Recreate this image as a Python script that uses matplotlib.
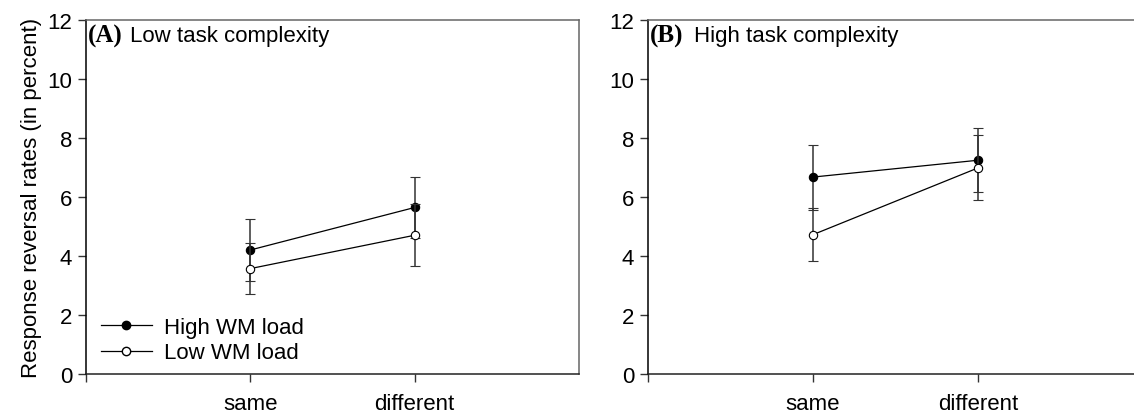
import matplotlib
matplotlib.use("Agg")
import matplotlib.pyplot as plt
from matplotlib.lines import Line2D

conditions = ["same", "different"]
x_pos = [1, 2]

# Panel A: Low task complexity
a_high = [4.20, 5.64]
a_high_err = [1.04, 1.03]
a_low = [3.57, 4.70]
a_low_err = [0.86, 1.05]

# Panel B: High task complexity
b_high = [6.67, 7.24]
b_high_err = [1.10, 1.09]
b_low = [4.72, 6.98]
b_low_err = [0.90, 1.10]

series_labels = ["High WM load", "Low WM load"]
panel_letters = ["(A)", "(B)"]
panel_titles = ["Low task complexity", "High task complexity"]
y_ticks = [0, 2, 4, 6, 8, 10, 12]

plt.rcParams["font.family"] = ["Liberation Sans", "DejaVu Sans"]
FS = 16

W, H = 1134, 414
fig = plt.figure(figsize=(W / 100, H / 100), dpi=100)

def px_axes(left, top, right, bottom):
    return fig.add_axes([left / W, (H - bottom) / H, (right - left) / W, (bottom - top) / H])

axA = px_axes(86, 20.7, 579, 375)
axB = px_axes(648, 20.7, 1143, 375)

panels = [
    (axA, a_high, a_high_err, a_low, a_low_err, 44),
    (axB, b_high, b_high_err, b_low, b_low_err, 46),
]

for i, (ax, hi, hie, lo, loe, txt_off) in enumerate(panels):
    ax.errorbar(x_pos, hi, yerr=hie, fmt="o-", color="black", ecolor="#333333",
                elinewidth=1.1, capsize=3.6, capthick=1.1, lw=0.9,
                markersize=6, markerfacecolor="black", markeredgecolor="black",
                markeredgewidth=0.8, zorder=3)
    ax.errorbar(x_pos, lo, yerr=loe, fmt="o-", color="black", ecolor="#333333",
                elinewidth=1.1, capsize=3.6, capthick=1.1, lw=0.9,
                markersize=6, markerfacecolor="white", markeredgecolor="black",
                markeredgewidth=0.8, zorder=4)
    ax.set_xlim(0, 3)
    ax.set_ylim(0, 12)
    ax.set_xticks([0] + x_pos)
    ax.set_xticklabels([""] + conditions, fontsize=FS)
    ax.set_yticks(y_ticks)
    ax.set_yticklabels([str(t) for t in y_ticks], fontsize=FS)
    ax.tick_params(direction="out", length=6, width=1.0, color="#333333", pad=4)
    ax.tick_params(axis="x", pad=8)
    ax.spines["left"].set_color("black")
    ax.spines["bottom"].set_color("#222222")
    ax.spines["top"].set_color("#666666")
    ax.spines["right"].set_color("#666666")
    for s in ax.spines.values():
        s.set_linewidth(1.1)
    ax.annotate(panel_letters[i], xy=(0, 1), xycoords="axes fraction",
                xytext=(2, -16), textcoords="offset pixels", ha="left", va="center",
                fontsize=FS + 2, fontweight="bold", family="Liberation Serif")
    ax.annotate(panel_titles[i], xy=(0, 1), xycoords="axes fraction",
                xytext=(txt_off, -16), textcoords="offset pixels", ha="left", va="center",
                fontsize=FS)

axA.set_ylabel("Response reversal rates (in percent)", fontsize=FS, labelpad=4)

handles = [
    Line2D([], [], color="black", lw=0.9, marker="o", markersize=6,
           markerfacecolor="black", markeredgecolor="black"),
    Line2D([], [], color="black", lw=0.9, marker="o", markersize=6,
           markerfacecolor="white", markeredgecolor="black"),
]
axA.legend(handles, series_labels, loc="lower left", bbox_to_anchor=(0.03, 0.03),
           frameon=False, fontsize=FS, borderpad=0, borderaxespad=0,
           handlelength=2.3, handletextpad=0.55, labelspacing=0.2)

fig.savefig("out.png", dpi=100)
